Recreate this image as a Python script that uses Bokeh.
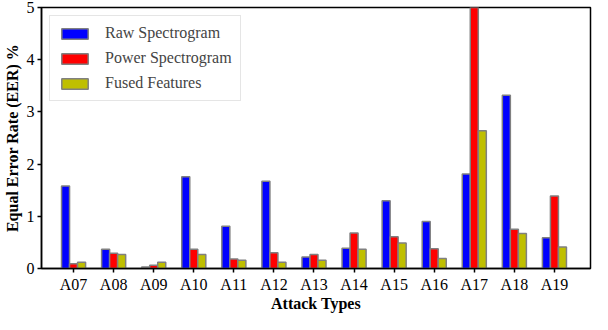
from bokeh.plotting import figure
from bokeh.models import Range1d, FixedTicker, Legend
from bokeh.transform import dodge
from bokeh.models import ColumnDataSource
from bokeh.embed import file_html
from bokeh.resources import INLINE

categories = ["A07", "A08", "A09", "A10", "A11", "A12", "A13", "A14", "A15", "A16", "A17", "A18", "A19"]
raw_spec = [1.58, 0.37, 0.03, 1.76, 0.81, 1.67, 0.22, 0.39, 1.30, 0.90, 1.81, 3.32, 0.59]
power_spec = [0.09, 0.29, 0.06, 0.37, 0.18, 0.30, 0.27, 0.68, 0.61, 0.38, 5.00, 0.75, 1.39]
fused = [0.12, 0.27, 0.12, 0.27, 0.16, 0.12, 0.16, 0.37, 0.49, 0.19, 2.64, 0.67, 0.41]
y_ticks = [0, 1, 2, 3, 4, 5]

xpos = list(range(len(categories)))
src = ColumnDataSource(dict(x=xpos, raw=raw_spec, power=power_spec, fused=fused))

FONT = "Liberation Serif"

p = figure(width=592, height=314, output_backend="svg", toolbar_location=None,
           x_range=Range1d(-0.8, 12.9), y_range=Range1d(0, 5),
           min_border_left=20, min_border_right=2, min_border_top=7, min_border_bottom=0)

w = 0.2
series = [("raw", "Raw Spectrogram", "#0000ff", -0.2),
          ("power", "Power Spectrogram", "#ff0000", 0.0),
          ("fused", "Fused Features", "#bfbf00", 0.2)]
items = []
for col, label, color, off in series:
    r = p.vbar(x=dodge("x", off), top=col, width=w, source=src,
               fill_color=color, line_color="#808080", line_width=1.5)
    items.append((label, [r]))

legend = Legend(items=items, location="top_left")
legend.label_text_font = FONT
legend.label_text_font_size = "16px"
legend.glyph_width = 33
legend.glyph_height = 13
legend.spacing = 7
legend.padding = 8
legend.margin = 8
legend.label_standoff = 14
legend.border_line_color = "#cccccc"
legend.border_line_width = 1
legend.background_fill_alpha = 0.9
p.add_layout(legend)

p.xgrid.visible = False
p.ygrid.visible = False
p.outline_line_color = "black"
p.outline_line_width = 1.5

p.xaxis.ticker = FixedTicker(ticks=xpos)
p.xaxis.major_label_overrides = {i: c for i, c in zip(xpos, categories)}
p.yaxis.ticker = FixedTicker(ticks=y_ticks)
p.xaxis.minor_tick_line_color = None
p.yaxis.minor_tick_line_color = None
for ax in (p.xaxis, p.yaxis):
    ax.axis_line_color = "black"
    ax.axis_line_width = 1.5
    ax.major_tick_line_color = "black"
    ax.major_tick_line_width = 1.5
    ax.major_tick_out = 4
    ax.major_tick_in = 0
    ax.major_label_text_font = FONT
    ax.major_label_text_font_size = "16px"
    ax.major_label_text_color = "black"
    ax.axis_label_text_font = FONT
    ax.axis_label_text_font_style = "bold"
    ax.axis_label_text_color = "black"
    ax.major_label_standoff = 3
p.xaxis.axis_label = "Attack Types"
p.yaxis.axis_label = "Equal Error Rate (EER) %"
p.xaxis.axis_label_text_font_size = "16px"
p.yaxis.axis_label_text_font_size = "16px"
p.xaxis.major_label_standoff = 3
p.xaxis.axis_label_standoff = -1
p.yaxis.axis_label_standoff = 3

open("out.html", "w").write(file_html(p, INLINE))
